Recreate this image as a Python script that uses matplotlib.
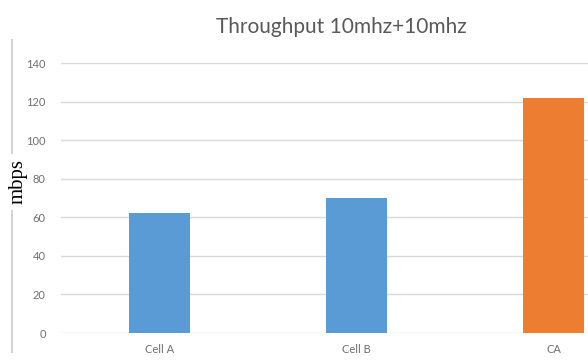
import matplotlib
matplotlib.use("Agg")
import matplotlib.pyplot as plt
from matplotlib.lines import Line2D

categories = ["Cell A", "Cell B", "CA"]
values = [62, 70, 122]
colors = ["#5B9BD5", "#5B9BD5", "#ED7D31"]
yticks = [0, 20, 40, 60, 80, 100, 120, 140]

W, H = 588, 360
fig = plt.figure(figsize=(W/100, H/100), dpi=100)
ax = fig.add_axes([61/W, 1-333/H, 1-61/W, (333-63)/H])

x = list(range(len(categories)))
ax.bar(x, values, width=0.31, color=colors, zorder=3)
ax.set_xlim(-0.5, 2.175)
ax.set_ylim(0, 140)
ax.set_yticks(yticks)
ax.set_xticks(x)
ax.set_xticklabels(categories)
ax.grid(axis="y", color="#d9d9d9", linewidth=1, zorder=0)
for s in ax.spines.values():
    s.set_visible(False)
ax.tick_params(axis="both", length=0, labelsize=8, labelcolor="#6f6f6f")
ax.tick_params(axis="y", pad=11)
ax.tick_params(axis="x", pad=8)
for lab in ax.get_xticklabels() + ax.get_yticklabels():
    lab.set_fontfamily("Lato")

fig.text(341/W, 1-27/H, "Throughput 10mhz+10mhz", ha="center", va="center",
         fontsize=15, color="#595959", family="Lato")

# outer frame line on the left
fig.add_artist(Line2D([12/W, 12/W], [1-40/H, 1-352/H], transform=fig.transFigure,
                      color="#d4d4d4", linewidth=1.5))
fig.text(18/W, 1-182/H, "mbps", rotation=90, ha="center", va="center",
         fontsize=15, color="black", family="Liberation Serif",
         bbox=dict(facecolor="white", edgecolor="none", pad=4))

fig.savefig("out.png", dpi=100)
